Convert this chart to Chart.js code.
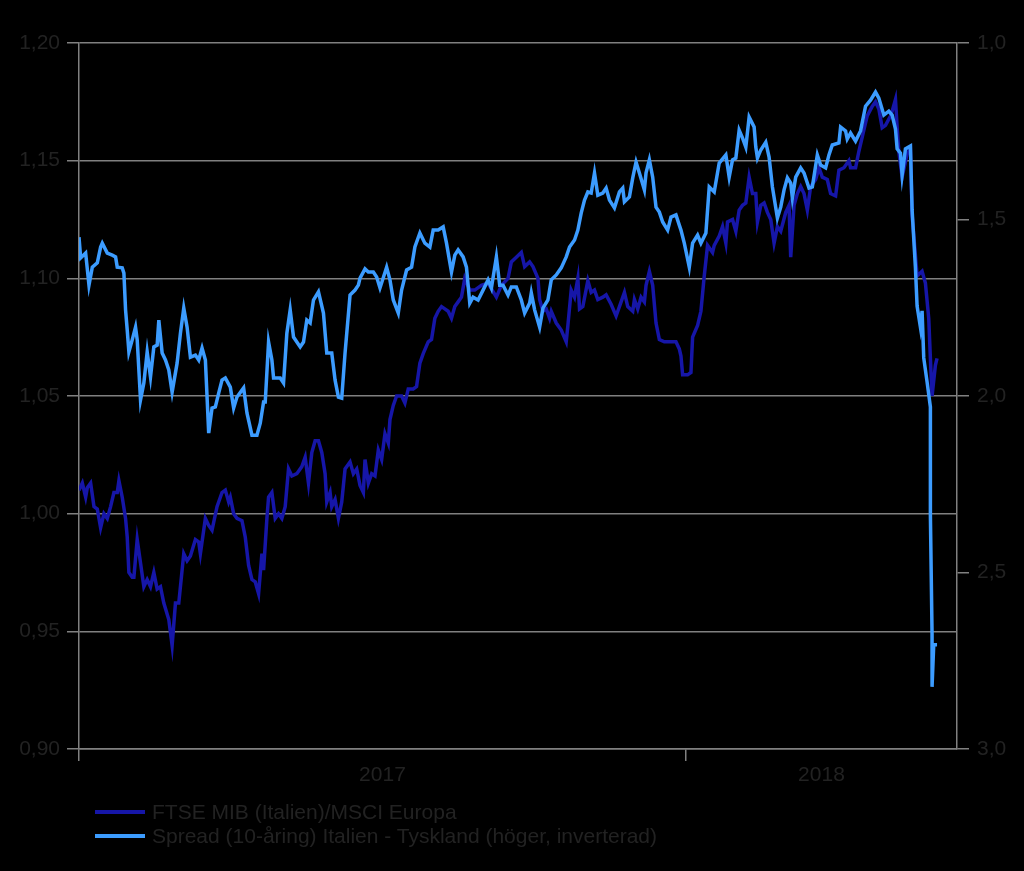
<!DOCTYPE html>
<html>
<head>
<meta charset="utf-8">
<script src="https://cdn.jsdelivr.net/npm/chart.js@4.4.0/dist/chart.umd.min.js"></script>
<style>
  html, body { margin: 0; padding: 0; background: #000; }
  #wrap { position: relative; width: 1024px; height: 871px; }
  #legend { position: absolute; left: 95px; top: 800px; font: 21px Arial, "Liberation Sans", sans-serif; color: #222; }
  .row { height: 24px; line-height: 24px; display: flex; align-items: center; white-space: nowrap; }
  .sw { width: 50px; height: 4px; margin-right: 7px; }
</style>
</head>
<body>
<div id="wrap">
  <canvas id="myChart" width="1024" height="871"></canvas>
  <div id="legend"></div>
</div>
<script>
// dagar från 1 jan 2017
const ftseDays = [
  0, 2, 4, 5, 7, 9, 11, 13, 15, 17,
  19, 21, 23, 24, 26, 28, 29, 30, 32, 33,
  35, 37, 39, 41, 43, 45, 47, 49, 51, 54,
  56, 58, 60, 63, 65, 67, 70, 72, 73, 76,
  78, 80, 83, 86, 88, 90, 91, 93, 95, 98,
  100, 102, 104, 106, 108, 110, 111, 113, 114, 116,
  118, 120, 122, 124, 126, 128, 131, 134, 136, 138,
  140, 142, 144, 146, 148, 149, 151, 152, 154, 156,
  158, 160, 163, 165, 167, 169, 171, 172, 174, 176,
  178, 180, 182, 184, 186, 187, 189, 191, 194, 196,
  198, 201, 203, 205, 207, 210, 212, 214, 216, 218,
  220, 222, 224, 226, 228, 230, 232, 235, 238, 242,
  246, 251, 254, 258, 260, 263, 266, 268, 271, 273,
  276, 277, 279, 281, 283, 284, 287, 290, 293, 294,
  296, 298, 300, 301, 303, 306, 308, 310, 312, 315,
  317, 320, 323, 326, 328, 330, 333, 334, 336, 338,
  340, 341, 343, 345, 347, 349, 352, 356, 359, 361,
  362, 363, 366, 368, 369, 372, 374, 376, 378, 381,
  382, 385, 387, 389, 390, 393, 395, 397, 399, 401,
  403, 405, 407, 408, 410, 412, 414, 416, 418, 420,
  422, 425, 427, 428, 430, 432, 434, 436, 438, 440,
  443, 445, 447, 450, 452, 455, 457, 460, 463, 464,
  467, 469, 471, 474, 477, 479, 481, 483, 485, 488,
  489, 491, 492, 493, 495, 498, 500, 501, 504, 507,
  509, 511, 512, 513, 515, 516
];
const ftseValues = [
  1.010, 1.013, 1.007, 1.011, 1.013, 1.003, 1.002, 0.994, 1.000, 0.998,
  1.003, 1.009, 1.009, 1.014, 1.007, 0.998, 0.990, 0.975, 0.973, 0.973,
  0.989, 0.979, 0.969, 0.972, 0.969, 0.975, 0.968, 0.969, 0.962, 0.955,
  0.944, 0.962, 0.962, 0.983, 0.980, 0.982, 0.989, 0.988, 0.983, 0.998,
  0.995, 0.993, 1.003, 1.009, 1.010, 1.005, 1.007, 1.000, 0.998, 0.997,
  0.990, 0.978, 0.972, 0.971, 0.966, 0.983, 0.976, 0.998, 1.007, 1.009,
  0.998, 1.000, 0.998, 1.003, 1.019, 1.016, 1.017, 1.020, 1.024, 1.013,
  1.026, 1.031, 1.031, 1.026, 1.017, 1.005, 1.009, 1.003, 1.006, 0.998,
  1.005, 1.019, 1.022, 1.017, 1.019, 1.012, 1.009, 1.023, 1.013, 1.017,
  1.016, 1.027, 1.023, 1.034, 1.030, 1.040, 1.046, 1.050, 1.050, 1.047,
  1.053, 1.053, 1.054, 1.064, 1.068, 1.073, 1.074, 1.083, 1.086, 1.088,
  1.087, 1.086, 1.083, 1.088, 1.090, 1.092, 1.100, 1.095, 1.095, 1.097,
  1.098, 1.092, 1.097, 1.100, 1.107, 1.109, 1.111, 1.105, 1.107, 1.105,
  1.100, 1.091, 1.086, 1.087, 1.083, 1.086, 1.081, 1.078, 1.073, 1.080,
  1.095, 1.092, 1.100, 1.087, 1.088, 1.099, 1.094, 1.095, 1.091, 1.092,
  1.093, 1.089, 1.084, 1.090, 1.094, 1.088, 1.086, 1.091, 1.087, 1.092,
  1.090, 1.097, 1.103, 1.097, 1.081, 1.074, 1.073, 1.073, 1.073, 1.070,
  1.067, 1.059, 1.059, 1.060, 1.075, 1.080, 1.086, 1.101, 1.114, 1.111,
  1.114, 1.118, 1.122, 1.115, 1.124, 1.125, 1.120, 1.129, 1.131, 1.132,
  1.143, 1.136, 1.136, 1.124, 1.131, 1.132, 1.128, 1.125, 1.115, 1.122,
  1.120, 1.128, 1.131, 1.109, 1.131, 1.136, 1.139, 1.136, 1.129, 1.139,
  1.142, 1.147, 1.143, 1.142, 1.136, 1.135, 1.146, 1.147, 1.150, 1.147,
  1.147, 1.154, 1.160, 1.169, 1.173, 1.175, 1.172, 1.164, 1.165, 1.169,
  1.171, 1.176, 1.164, 1.154, 1.143, 1.153, 1.155, 1.127, 1.101, 1.103,
  1.098, 1.083, 1.066, 1.050, 1.063, 1.066
];

const spreadDays = [
  0, 1, 4, 6, 8, 11, 13, 14, 17, 20,
  22, 23, 26, 27, 28, 29, 30, 32, 34, 35,
  37, 39, 41, 43, 45, 47, 48, 50, 52, 54,
  56, 59, 61, 63, 65, 67, 70, 72, 74, 76,
  78, 80, 82, 84, 86, 88, 91, 93, 95, 99,
  101, 104, 107, 109, 111, 112, 114, 116, 117, 121,
  123, 125, 127, 129, 133, 135, 137, 139, 141, 144,
  147, 149, 152, 154, 156, 158, 160, 163, 166, 168,
  169, 172, 174, 177, 179, 181, 185, 187, 189, 192,
  194, 197, 200, 202, 205, 208, 211, 213, 216, 219,
  221, 224, 226, 228, 231, 233, 235, 237, 240, 243,
  246, 248, 251, 253, 255, 258, 260, 263, 266, 268,
  271, 272, 274, 277, 279, 282, 284, 287, 290, 293,
  295, 298, 300, 302, 304, 306, 308, 310, 312, 315,
  317, 319, 322, 325, 327, 328, 331, 333, 335, 337,
  340, 341, 343, 345, 347, 349, 351, 354, 356, 359,
  361, 362, 364, 367, 369, 372, 374, 377, 379, 382,
  385, 389, 391, 393, 395, 397, 399, 401, 403, 406,
  407, 408, 410, 413, 415, 417, 420, 422, 424, 426,
  428, 429, 431, 434, 436, 439, 441, 444, 446, 449,
  451, 453, 457, 458, 461, 462, 464, 467, 470, 473,
  476, 479, 481, 484, 487, 489, 491, 492, 494, 495,
  497, 500, 501, 503, 504, 506, 507, 508, 510, 512,
  512, 513, 513, 514, 516
];
const spreadValues = [
  1.550, 1.609, 1.595, 1.686, 1.635, 1.623, 1.578, 1.567, 1.595, 1.601,
  1.606, 1.635, 1.637, 1.652, 1.756, 1.813, 1.875, 1.841, 1.805, 1.841,
  2.011, 1.963, 1.875, 1.946, 1.861, 1.856, 1.785, 1.878, 1.898, 1.926,
  1.989, 1.907, 1.822, 1.751, 1.805, 1.890, 1.884, 1.898, 1.864, 1.898,
  2.105, 2.034, 2.031, 1.992, 1.955, 1.949, 1.975, 2.034, 2.003, 1.977,
  2.048, 2.111, 2.111, 2.077, 2.017, 2.017, 1.847, 1.898, 1.949, 1.949,
  1.963, 1.822, 1.756, 1.833, 1.861, 1.847, 1.785, 1.793, 1.728, 1.705,
  1.765, 1.878, 1.878, 1.955, 2.003, 2.006, 1.878, 1.714, 1.700, 1.686,
  1.666, 1.640, 1.649, 1.649, 1.663, 1.694, 1.635, 1.671, 1.728, 1.765,
  1.700, 1.643, 1.635, 1.578, 1.538, 1.567, 1.578, 1.530, 1.530, 1.521,
  1.567, 1.649, 1.601, 1.586, 1.606, 1.635, 1.737, 1.720, 1.728, 1.700,
  1.671, 1.694, 1.606, 1.686, 1.686, 1.714, 1.691, 1.691, 1.728, 1.765,
  1.737, 1.708, 1.756, 1.805, 1.751, 1.728, 1.671, 1.657, 1.637, 1.606,
  1.578, 1.558, 1.530, 1.482, 1.445, 1.422, 1.425, 1.368, 1.431, 1.425,
  1.411, 1.445, 1.467, 1.422, 1.411, 1.450, 1.436, 1.382, 1.337, 1.368,
  1.416, 1.368, 1.331, 1.380, 1.465, 1.479, 1.507, 1.530, 1.493, 1.487,
  1.516, 1.530, 1.567, 1.635, 1.567, 1.544, 1.567, 1.538, 1.408, 1.422,
  1.340, 1.317, 1.380, 1.331, 1.326, 1.247, 1.269, 1.295, 1.210, 1.238,
  1.295, 1.326, 1.303, 1.281, 1.323, 1.408, 1.496, 1.465, 1.416, 1.382,
  1.397, 1.439, 1.380, 1.354, 1.368, 1.411, 1.408, 1.317, 1.346, 1.354,
  1.317, 1.289, 1.283, 1.238, 1.249, 1.272, 1.255, 1.278, 1.249, 1.179,
  1.162, 1.139, 1.156, 1.204, 1.193, 1.204, 1.244, 1.300, 1.312, 1.374,
  1.300, 1.292, 1.473, 1.637, 1.745, 1.805, 1.759, 1.892, 1.960, 2.031,
  2.337, 2.674, 2.824, 2.705, 2.705
];

const yearLabels = ['2017', '2018'];
const yearStarts = [0, 365];
const axisEnd = 528;
const seriesNames = ['FTSE MIB (Italien)/MSCI Europa', 'Spread (10-åring) Italien - Tyskland (höger, inverterad)'];
const seriesColors = ['#1616a8', '#3c9cff'];

const textColor = '#222';
const gridColor = '#808080';
const fontSpec = { family: 'Arial, "Liberation Sans", sans-serif', size: 21 };

// etikett mitt i varje år
const labelPos = yearStarts.map((s, i) => (s + (i + 1 < yearStarts.length ? yearStarts[i + 1] : axisEnd)) / 2);

function toPoints(days, vals) {
  return days.map((d, i) => ({ x: d, y: vals[i] }));
}

const ctx = document.getElementById('myChart');

new Chart(ctx, {
  type: 'line',
  data: {
    datasets: [{
      label: seriesNames[0],
      data: toPoints(ftseDays, ftseValues),
      borderColor: seriesColors[0],
      borderWidth: 3.5,
      pointRadius: 0,
      yAxisID: 'y',
      order: 1
    }, {
      label: seriesNames[1],
      data: toPoints(spreadDays, spreadValues),
      borderColor: seriesColors[1],
      borderWidth: 3.5,
      pointRadius: 0,
      yAxisID: 'y1',
      order: 0
    }]
  },
  options: {
    responsive: false,
    animation: false,
    devicePixelRatio: 1,
    layout: { padding: { top: 43, left: 0, right: 0, bottom: 0 } },
    plugins: { legend: { display: false }, tooltip: { enabled: false } },
    scales: {
      x: {
        type: 'linear',
        min: 0,
        max: axisEnd,
        afterBuildTicks: (scale) => {
          const t = [];
          yearStarts.forEach((s, i) => {
            t.push({ value: s });
            t.push({ value: labelPos[i] });
          });
          scale.ticks = t;
        },
        afterFit: (scale) => { scale.height = 122; },
        ticks: {
          autoSkip: false,
          maxRotation: 0,
          padding: 2,
          color: textColor,
          font: fontSpec,
          callback: (v) => {
            const i = labelPos.indexOf(v);
            return i >= 0 ? yearLabels[i] : '';
          }
        },
        grid: {
          drawOnChartArea: false,
          tickLength: 12,
          lineWidth: 1.5,
          color: (c) => (c.tick && yearStarts.includes(c.tick.value)) ? gridColor : 'rgba(0,0,0,0)'
        },
        border: { color: gridColor, width: 1.5 }
      },
      y: {
        position: 'left',
        min: 0.90,
        max: 1.20,
        afterFit: (scale) => { scale.width = 79; },
        ticks: {
          stepSize: 0.05,
          padding: 7,
          color: textColor,
          font: fontSpec,
          callback: (v) => v.toFixed(2).replace('.', ',')
        },
        grid: { color: gridColor, lineWidth: 1.5, tickLength: 12 },
        border: { color: gridColor, width: 1.5 }
      },
      y1: {
        position: 'right',
        min: 1,
        max: 3,
        reverse: true,
        afterFit: (scale) => { scale.width = 67; },
        ticks: {
          stepSize: 0.5,
          padding: 8,
          color: textColor,
          font: fontSpec,
          callback: (v) => v.toFixed(1).replace('.', ',')
        },
        grid: { drawOnChartArea: false, color: gridColor, lineWidth: 1.5, tickLength: 12 },
        border: { color: gridColor, width: 1.5 }
      }
    }
  }
});

// förklaring under diagrammet
const legend = document.getElementById('legend');
seriesNames.forEach((name, i) => {
  const row = document.createElement('div');
  row.className = 'row';
  const sw = document.createElement('span');
  sw.className = 'sw';
  sw.style.background = seriesColors[i];
  const txt = document.createElement('span');
  txt.textContent = name;
  row.appendChild(sw);
  row.appendChild(txt);
  legend.appendChild(row);
});
</script>
</body>
</html>
